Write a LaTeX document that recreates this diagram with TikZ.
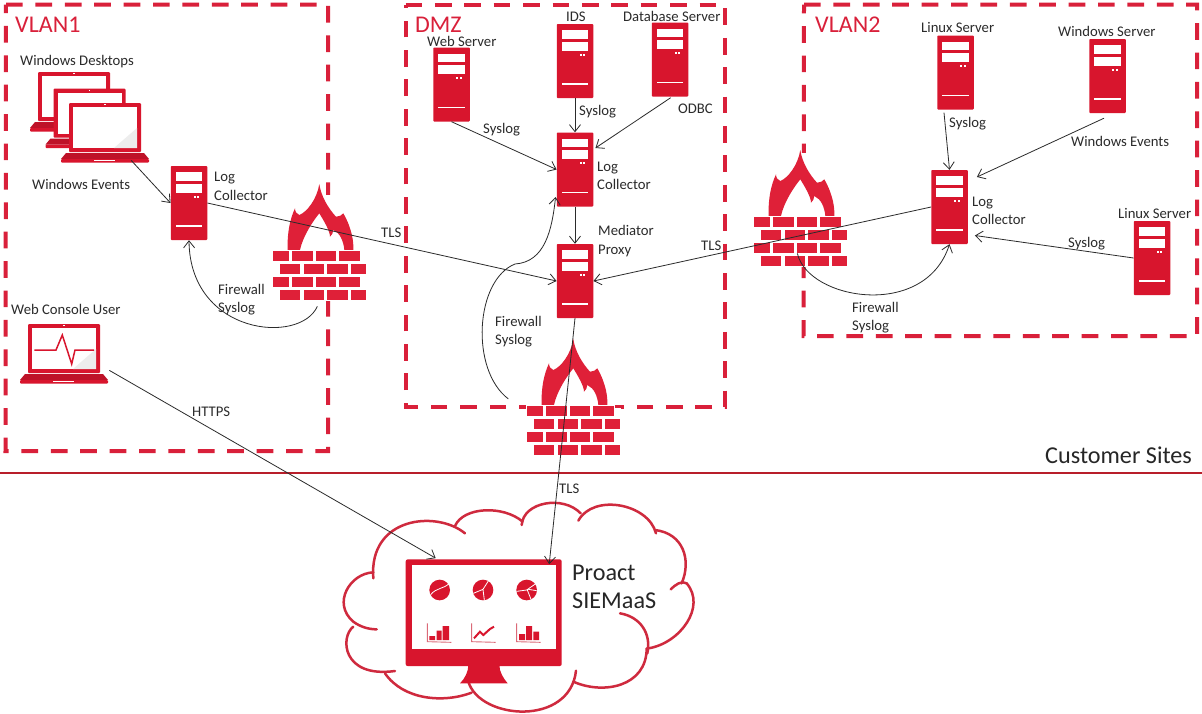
\documentclass[tikz,border=0pt]{standalone}
\usepackage{fontspec}
\setmainfont{Carlito}
\usetikzlibrary{arrows.meta,calc}
\definecolor{srvred}{HTML}{D8152D}
\definecolor{fwred}{HTML}{DF2038}
\definecolor{dashred}{HTML}{D9203A}
\definecolor{rulered}{HTML}{B81E2A}
\definecolor{cloudred}{HTML}{CF2A3E}
\definecolor{txt}{HTML}{2B2B2B}
\definecolor{axisred}{HTML}{DB6A78}
\tikzset{
  zone/.style={draw=dashred,line width=4pt,dash pattern=on 16.7pt off 12.7pt},
  srvbox/.style={fill=srvred,rounded corners=0.8pt,inner sep=0pt,minimum width=36.5pt,minimum height=74pt},
  ghost/.style={inner sep=0pt,anchor=north west},
  lbl/.style={anchor=west,inner sep=0pt,yshift=-1pt,text=txt,font=\fontsize{14.7}{18.5}\selectfont,align=left},
  zonetitle/.style={anchor=west,inner sep=0pt,text=dashred,font=\fontsize{24}{28}\selectfont},
  big/.style={anchor=west,inner sep=0pt,text=black!85,font=\fontsize{24.2}{28}\selectfont,align=left},
  link/.style={draw=txt,line width=0.8pt},
  arr/.style={link,-{Straight Barb[length=7pt,width=11pt]}},
  cloudline/.style={draw=cloudred,line width=2.5pt,line cap=round}
}
\newcommand{\srv}[3]{%
  \node[srvbox] (#1) at (#2,#3) {};
  \begin{scope}[shift={(#1.north west)}]
    \fill[white] (5,6.5) rectangle (31.5,15);
    \fill[white] (5,18) rectangle (31.5,26.7);
    \fill[white] (23,30) rectangle (25,32);
    \fill[white] (26.5,30) rectangle (28.5,32);
    \fill[white] (5,59.5) rectangle (31.5,61);
  \end{scope}}
\newcommand{\fw}[4]{%
  \node[ghost,minimum width=93.3pt,minimum height=117pt] (#1) at (#2,#3-67) {};
  \begin{scope}[shift={(#2,#3)}]
    \fill[white] (-1,#4) rectangle (88,2);
    \fill[white] (-1,2) rectangle (94,50);
    \fill[fwred] (14.7,-1.2) .. controls (14,-18) and (17,-32) .. (22,-42.7)
      .. controls (22,-39) and (24,-37) .. (26.3,-36)
      .. controls (34,-39) and (44,-52) .. (46.3,-67)
      .. controls (48,-55) and (55,-43) .. (63,-34.3)
      .. controls (66,-34) and (69,-36) .. (70.3,-37.7)
      .. controls (76,-28) and (81,-14) .. (80.3,-1.2)
      -- (71.3,-1.2)
      .. controls (70.5,-10) and (67,-18) .. (60.3,-21)
      .. controls (60,-18) and (59,-16) .. (57,-14.3)
      .. controls (57,-20) and (51,-30) .. (46.3,-37.7)
      .. controls (40,-30) and (30,-15) .. (27,-1.2) -- cycle;
    \foreach \r in {0,26}{
      \fill[fwred] (0,\r) rectangle (15.7,\r+10);
      \fill[fwred] (19,\r) rectangle (39.7,\r+10);
      \fill[fwred] (42.7,\r) rectangle (63.3,\r+10);
      \fill[fwred] (66.3,\r) rectangle (86.7,\r+10);
      \fill[fwred] (6.7,\r+13) rectangle (27.3,\r+23);
      \fill[fwred] (30.7,\r+13) rectangle (51.3,\r+23);
      \fill[fwred] (54.3,\r+13) rectangle (75,\r+23);
      \fill[fwred] (78,\r+13) rectangle (93.3,\r+23);
    }
  \end{scope}}
\newcommand{\laptopshape}[2]{%
  \begin{scope}[shift={(#1,#2)}]
    \fill[srvred,rounded corners=1pt] (0,0) rectangle (72,49);
    \fill[white] (4,4) rectangle (68,45);
    \fill[black!7] (45,45) -- (68,45) -- (68,25) -- cycle;
    \fill[white] (35.3,1) rectangle (36.7,2.4);
    \fill[srvred!88!black] (-3,50) -- (75,50) -- (80,56) -- (-8,56) -- cycle;
    \fill[srvred,rounded corners=1pt] (-8,56) rectangle (80,59.5);
    \fill[white] (25,56.5) rectangle (46,58);
  \end{scope}}
\begin{document}
\begin{tikzpicture}[x=1pt,y=-1pt]
\useasboundingbox (0,0) rectangle (1202,713);
\fill[white] (0,0) rectangle (1202,713);
% zones
\draw[zone] (6,4.5) -- (328,4.5) -- (328,451) -- (5.5,451) -- cycle;
\draw[zone] (405.5,4.5) -- (725,4.5) -- (725,407) -- (405.5,407) -- cycle;
\draw[zone] (804,4.5) -- (1197,4.5) -- (1197,336) -- (803.5,336) -- cycle;
\draw[rulered,line width=2pt] (0,473) -- (1202,473);
% firewalls
\fw{fwa}{273}{251}{-56}
\fw{fwb}{527}{406}{-3}
\fw{fwc}{754}{217}{-64}
% desktops
\node[ghost,minimum width=118pt,minimum height=90pt] (desk) at (30,72) {};
\laptopshape{38}{72}
\laptopshape{53.5}{88.5}
\laptopshape{69}{103}
% web console
\node[ghost,minimum width=89pt,minimum height=61pt] (web) at (20,324) {};
\laptopshape{28}{324}
\draw[srvred,line width=1.5pt] (34.3,350) -- (56,350) -- (62.3,335) -- (71.7,364) -- (75,350) -- (94,350);
% servers
\srv{lca}{189}{203}
\srv{websrv}{451.5}{84.5}
\srv{ids}{575}{61}
\srv{db}{670}{59.5}
\srv{lcb}{575}{169.5}
\srv{med}{575}{281}
\srv{lina}{955.5}{72.5}
\srv{win}{1107.5}{76}
\srv{lcc}{949.5}{207}
\srv{linb}{1152}{258}
% cloud and monitor
\node[fill=srvred,rounded corners=2pt,inner sep=0pt,minimum width=156pt,minimum height=106.7pt] (mon) at (483.7,612.7) {};
\begin{scope}[shift={(340,500)},x=0.33333pt,y=-0.33333pt]
  \draw[cloudline] (375,100) .. controls (290,30) and (85,50) .. (100,235);
  \draw[cloudline] (100,217) .. controls (30,220) and (-25,310) .. (40,365) .. controls (60,380) and (85,388) .. (110,388);
  \draw[cloudline] (40,380) .. controls (0,410) and (5,535) .. (165,513);
  \draw[cloudline] (135,520) .. controls (190,600) and (310,610) .. (395,578);
  \draw[cloudline] (385,545) .. controls (420,660) and (690,680) .. (708,512);
  \draw[cloudline] (700,545) .. controls (790,585) and (920,560) .. (920,445);
  \draw[cloudline] (840,340) .. controls (900,350) and (935,400) .. (922,460);
  \draw[cloudline] (925,445) .. controls (1020,430) and (1100,320) .. (1040,250) .. controls (1025,240) and (1005,255) .. (992,268);
  \draw[cloudline] (1025,250) .. controls (1055,180) and (1030,100) .. (945,90);
  \draw[cloudline] (948,100) .. controls (925,10) and (760,-20) .. (715,62);
  \draw[cloudline] (722,40) .. controls (670,-15) and (550,5) .. (545,75);
  \draw[cloudline] (548,65) .. controls (490,15) and (370,20) .. (345,78);
  \fill[white] (215,195) rectangle (647,447);
  \fill[srvred] (385,495) .. controls (385,515) and (375,535) .. (360,550) -- (503,550) .. controls (490,535) and (478,515) .. (478,495) -- cycle;
  % pies
  \foreach \cx in {299,429,560} \fill[srvred] (\cx,270) circle[radius=31];
  \draw[white,line width=0.8pt] (272,284) .. controls (290,262) and (310,268) .. (328,250);
  \draw[white,line width=0.8pt] (400,280) -- (429,268) -- (445,243) (429,268) -- (433,300);
  \draw[white,line width=0.8pt] (530,274) -- (560,270) -- (586,252) (562,270) -- (573,298) (565,268) -- (590,272);
  % charts
  \foreach \cx in {262,395,530} \draw[axisred,line width=0.9pt] (\cx,370) -- (\cx,425) -- (\cx+72,427);
  \fill[srvred] (268,408) rectangle (285,420) (290,392) rectangle (305,420) (308,378) rectangle (327,420);
  \draw[srvred,line width=2pt] (402,415) -- (420,395) -- (430,405) -- (450,387) -- (462,380);
  \fill[srvred] (537,402) rectangle (555,420) (558,378) rectangle (576,420) (580,395) rectangle (597,420);
\end{scope}
% connectors
\draw[arr] ($(desk.south)+(42,-2)$) -- (lca.west);
\draw[arr] (lca.east) -- (med.west);
\draw[arr] ($(fwa.south)+(-2.5,5)$) .. controls (300,345) and (190,335) .. (lca.south);
\draw[arr] ($(web.south east)+(0,-15)$) -- ($(mon.north)+(-48,-1)$);
\draw[arr] (websrv.south) -- (lcb.west);
\draw[arr] (ids.south) -- (lcb.north);
\draw[arr] ($(db.south)+(0.7,1)$) -- ($(lcb.east)+(2,-21.5)$);
\draw[arr] (lcb.south) -- (med.north);
\draw[arr] ($(fwb.south)+(-65.5,-57.5)$) .. controls (470,370) and (475,280) .. (515,264) .. controls (545,262) and (552,230) .. ($(lcb.west)+(-1,27.5)$);
\draw[arr] (med.south) -- ($(mon.north)+(65.5,5)$);
\draw[arr] (lcc.west) -- (med.east);
\draw[arr] ($(fwc.south)+(-3.5,-14)$) .. controls (808,300) and (925,320) .. (lcc.south);
\draw[arr] ($(lina.south)+(-11.5,3)$) -- (lcc.north);
\draw[arr] ($(win.south)+(-3.5,5)$) -- ($(lcc.east)+(9,-30)$);
\draw[arr] (linb.west) -- ($(lcc.east)+(7,28.5)$);
% labels
\node[zonetitle] (tvlana) at (15,25) {VLAN1};
\node[zonetitle] (tdmz) at (415,25) {DMZ};
\node[zonetitle] (tvlanb) at (815,25) {VLAN2};
\node[lbl] (t1) at (20,61) {Windows Desktops};
\node[lbl] (t2) at (32,183) {Windows Events};
\node[lbl] (t3) at (214,185.5) {Log\\Collector};
\node[lbl] (t4) at (381,232) {TLS};
\node[lbl] (t5) at (218,298.5) {Firewall\\Syslog};
\node[lbl] (t6) at (11,308) {Web Console User};
\node[lbl] (t7) at (192,411) {HTTPS};
\node[lbl] (t8) at (427,40) {Web Server};
\node[lbl] (t9) at (566,16) {IDS};
\node[lbl] (t10) at (623,15) {Database Server};
\node[lbl] (t11) at (483,129) {Syslog};
\node[lbl] (t12) at (579,111) {Syslog};
\node[lbl] (t13) at (678,108) {ODBC};
\node[lbl] (t14) at (597,175) {Log\\Collector};
\node[lbl] (t15) at (598,240) {Mediator\\Proxy};
\node[lbl] (t16) at (495,330.5) {Firewall\\Syslog};
\node[lbl] (t17) at (559,488) {TLS};
\node[lbl] (t18) at (701,245) {TLS};
\node[lbl] (t19) at (921,26) {Linux Server};
\node[lbl] (t20) at (1058,30) {Windows Server};
\node[lbl] (t21) at (949,123) {Syslog};
\node[lbl] (t22) at (1071,140) {Windows Events};
\node[lbl] (t23) at (972,210) {Log\\Collector};
\node[lbl] (t24) at (1118,212) {Linux Server};
\node[lbl] (t25) at (1068,243) {Syslog};
\node[lbl] (t26) at (852,316.5) {Firewall\\Syslog};
\node[big] (t27) at (1045,455) {Customer Sites};
\node[big] (t28) at (572,587) {Proact\\SIEMaaS};
\end{tikzpicture}
\end{document}
